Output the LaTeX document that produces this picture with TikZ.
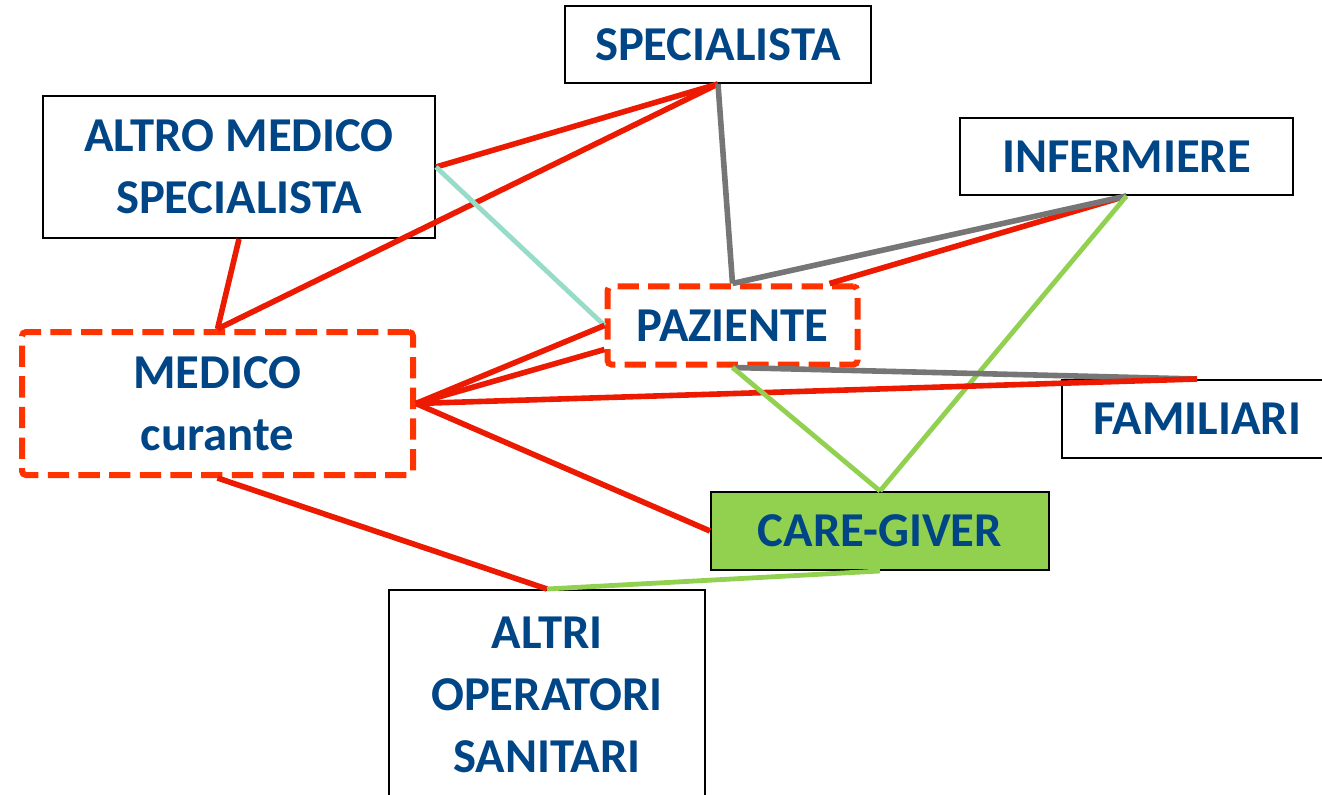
\documentclass[tikz,border=0pt]{standalone}
\usepackage{fontspec}
\setmainfont{Carlito}
\usetikzlibrary{calc}
\definecolor{txtblue}{RGB}{0,69,134}
\definecolor{linered}{RGB}{236,26,0}
\definecolor{dashred}{RGB}{255,51,0}
\definecolor{linegrey}{RGB}{118,118,118}
\definecolor{linegreen}{RGB}{146,208,80}
\definecolor{lineteal}{RGB}{150,220,200}
\begin{document}
\begin{tikzpicture}[x=0.75pt,y=-0.75pt,
box/.style={draw,line width=1.5pt,fill=white,align=center,inner sep=0pt,text=txtblue,font=\fontsize{36.5}{46.5}\selectfont\bfseries},
dbox/.style={box,draw=dashred,line width=4.5pt,dash pattern=on 16pt off 7pt,rounded corners=3pt},
red/.style={draw=linered,line width=4.2pt},
grey/.style={draw=linegrey,line width=4.2pt},
green/.style={draw=linegreen,line width=3.6pt},
teal/.style={draw=lineteal,line width=3.6pt}]
\useasboundingbox (0,0) rectangle (1322,795);
\node[box,minimum width=229.5pt,minimum height=57.75pt] (spec) at (718,44.5) {SPECIALISTA};
\node[box,minimum width=294pt,minimum height=106.5pt] (altro) at (239,167) {ALTRO MEDICO\\SPECIALISTA};
\node[box,minimum width=249.75pt,minimum height=57.75pt] (inf) at (1126.5,156.5) {INFERMIERE};
\node[dbox,minimum width=187.5pt,minimum height=58.5pt] (paz) at (732.5,325.5) {PAZIENTE};
\node[dbox,minimum width=293.25pt,minimum height=107.25pt] (med) at (217.5,403.5) {MEDICO\\curante};
\node[box,minimum width=202.5pt,minimum height=58.5pt] (fam) at (1197,419) {FAMILIARI};
\node[box,fill=linegreen,minimum width=253.5pt,minimum height=58.5pt] (care) at (880,531) {CARE-GIVER};
\node[box,minimum width=237pt,minimum height=157.5pt] (altri) at (547,695) {ALTRI\\OPERATORI\\SANITARI};
\draw[red] (altro.east) -- (spec.south);
\draw[red] (med.north) -- (spec.south);
\draw[red] (altro.south) -- (med.north);
\draw[teal] (altro.east) -- (paz.west);
\draw[grey] (spec.south) -- (paz.north);
\draw[red] ($(paz.north)+(97,0)$) -- (inf.south);
\draw[grey] (paz.north) -- (inf.south);
\draw[green] (inf.south) -- (care.north);
\draw[red] (med.east) -- (paz.west);
\draw[red] (med.east) -- ($(paz.west)+(0,24)$);
\draw[grey] (paz.south) -- (fam.north);
\draw[red] (med.east) -- (fam.north);
\draw[green] (paz.south) -- (care.north);
\draw[red] (med.east) -- (care.west);
\draw[red] (med.south) -- (altri.north);
\draw[green] (care.south) -- (altri.north);
\end{tikzpicture}
\end{document}
